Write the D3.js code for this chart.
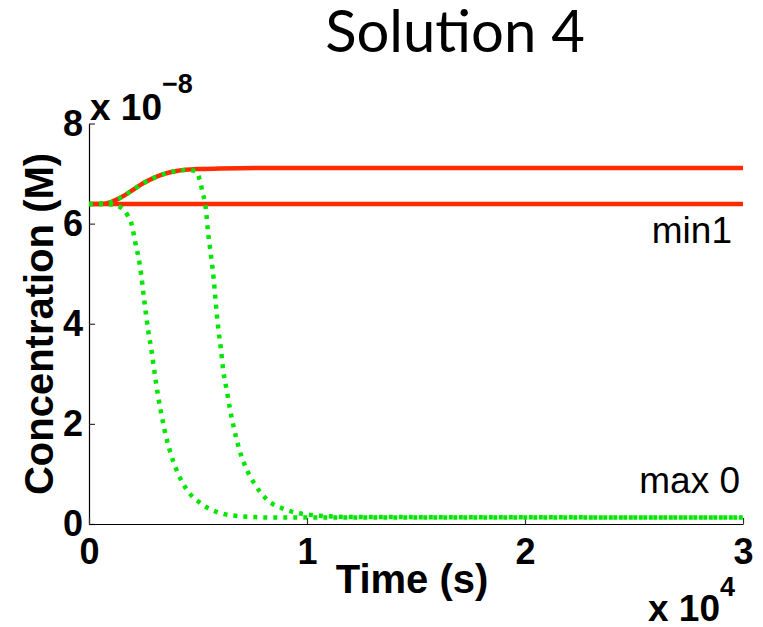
<!DOCTYPE html>
<html>
<head>
<meta charset="utf-8">
<script src="https://cdn.jsdelivr.net/npm/d3@7.9.0/dist/d3.min.js"></script>
<style>
  html, body { margin: 0; padding: 0; background: #fff; }
  svg { display: block; }
</style>
</head>
<body>
<svg id="chart"></svg>
<script>
// time in units of 1e4 s, concentration in units of 1e-8 M
const xTicks = [0, 1, 2, 3];
const yTicks = [0, 2, 4, 6, 8];

const redLowT = [0, 3];
const redLowV = [6.39, 6.39];

const redHighT = [0, 0.05, 0.1, 0.15, 0.2, 0.25, 0.3, 0.35, 0.4, 0.5, 0.6, 0.8, 1.0, 3.0];
const redHighV = [6.39, 6.39, 6.43, 6.53, 6.67, 6.81, 6.92, 7.00, 7.05, 7.09, 7.10, 7.11, 7.11, 7.11];

const greenAT = [0, 0.1, 0.147, 0.178, 0.196, 0.211, 0.234, 0.254, 0.272, 0.288, 0.300, 0.318, 0.333, 0.352, 0.376, 0.406, 0.448, 0.51, 0.594, 0.709, 0.846, 1.0, 3.0];
const greenAV = [6.39, 6.38, 6.32, 6.16, 5.98, 5.65, 5.15, 4.45, 3.85, 3.43, 3.05, 2.53, 2.17, 1.77, 1.39, 1.03, 0.69, 0.42, 0.23, 0.15, 0.13, 0.13, 0.13];

const greenBT = [0, 0.1, 0.15, 0.2, 0.25, 0.3, 0.35, 0.4, 0.45, 0.487, 0.51, 0.52, 0.53, 0.537, 0.545, 0.556, 0.572, 0.586, 0.596, 0.605, 0.616, 0.632, 0.647, 0.665, 0.688, 0.716, 0.758, 0.816, 0.9, 1.0, 1.2, 3.0];
const greenBV = [6.39, 6.43, 6.53, 6.67, 6.81, 6.92, 7.00, 7.05, 7.07, 7.05, 6.84, 6.64, 6.46, 6.26, 5.87, 5.49, 4.89, 4.2, 3.8, 3.5, 3.06, 2.67, 2.29, 1.91, 1.51, 1.16, 0.81, 0.49, 0.29, 0.19, 0.14, 0.13];

const width = 763;
const height = 627;

const svg = d3.select('#chart')
  .attr('width', width)
  .attr('height', height);

svg.append('rect').attr('width', width).attr('height', height).attr('fill', '#fff');

const x = d3.scaleLinear().domain([0, 3]).range([89, 743]);
const y = d3.scaleLinear().domain([0, 8]).range([524, 123.5]);

const zip = (ts, vs) => ts.map((t, i) => [t, vs[i]]);

// --- Axes ---
const tickFont = 'bold 36px "Liberation Sans", Arial, Helvetica, sans-serif';

const yAxis = svg.append('g')
  .attr('transform', `translate(${x(0)},0)`)
  .call(d3.axisLeft(y).tickValues(yTicks).tickFormat(d3.format('d'))
    .tickSizeInner(-6).tickSizeOuter(0).tickPadding(6));

const xAxis = svg.append('g')
  .attr('transform', `translate(0,${y(0)})`)
  .call(d3.axisBottom(x).tickValues(xTicks).tickFormat(d3.format('d'))
    .tickSizeInner(-6).tickSizeOuter(0).tickPadding(14));

[xAxis, yAxis].forEach(ax => {
  ax.select('.domain').attr('stroke', '#000').attr('stroke-width', 1.2);
  ax.selectAll('.tick line').attr('stroke', '#333').attr('stroke-width', 1.2);
  ax.selectAll('.tick text').style('font', tickFont).attr('fill', '#000');
});

// --- Lines ---
const line = d3.line()
  .x(d => x(d[0]))
  .y(d => y(d[1]))
  .curve(d3.curveMonotoneX);

const red = '#ff2a00';
const green = '#00e600';

const lines = svg.append('g').attr('fill', 'none');

[zip(redLowT, redLowV), zip(redHighT, redHighV)].forEach(pts => {
  lines.append('path')
    .attr('d', line(pts))
    .attr('stroke', red)
    .attr('stroke-width', 4.5);
});

[zip(greenAT, greenAV), zip(greenBT, greenBV)].forEach(pts => {
  lines.append('path')
    .attr('d', line(pts))
    .attr('stroke', green)
    .attr('stroke-width', 4.5)
    .attr('stroke-dasharray', '4,6');
});

// --- Texts ---
svg.append('text')
  .attr('x', 455)
  .attr('y', 52)
  .attr('text-anchor', 'middle')
  .style('font', '400 58px Lato, "Open Sans", sans-serif')
  .attr('fill', '#000')
  .text('Solution 4');

const boldFont = '"Liberation Sans", Arial, Helvetica, sans-serif';

// y exponent
const yExp = svg.append('text')
  .attr('x', 90)
  .attr('y', 120)
  .style('font-family', boldFont)
  .style('font-weight', 'bold')
  .style('font-size', '37px')
  .attr('fill', '#000');
yExp.append('tspan').text('x 10');
yExp.append('tspan').attr('dy', -27).style('font-size', '27px').text('\u22128');

// x exponent
const xExp = svg.append('text')
  .attr('x', 648)
  .attr('y', 621)
  .style('font-family', boldFont)
  .style('font-weight', 'bold')
  .style('font-size', '37px')
  .attr('fill', '#000');
xExp.append('tspan').text('x 10');
xExp.append('tspan').attr('dy', -25).style('font-size', '27px').text('4');

// axis labels
svg.append('text')
  .attr('x', 412)
  .attr('y', 593)
  .attr('text-anchor', 'middle')
  .style('font-family', boldFont)
  .style('font-weight', 'bold')
  .style('font-size', '40px')
  .attr('fill', '#000')
  .text('Time (s)');

svg.append('text')
  .attr('transform', `translate(53,${(150 + 498) / 2}) rotate(-90)`)
  .attr('text-anchor', 'middle')
  .style('font-family', boldFont)
  .style('font-weight', 'bold')
  .style('font-size', '40px')
  .attr('fill', '#000')
  .text('Concentration (M)');

// annotations
svg.append('text')
  .attr('x', 732)
  .attr('y', 243)
  .attr('text-anchor', 'end')
  .style('font-family', boldFont)
  .style('font-size', '37px')
  .attr('fill', '#000')
  .text('min1');

svg.append('text')
  .attr('x', 740)
  .attr('y', 493)
  .attr('text-anchor', 'end')
  .style('font-family', boldFont)
  .style('font-size', '37px')
  .attr('fill', '#000')
  .text('max 0');
</script>
</body>
</html>
